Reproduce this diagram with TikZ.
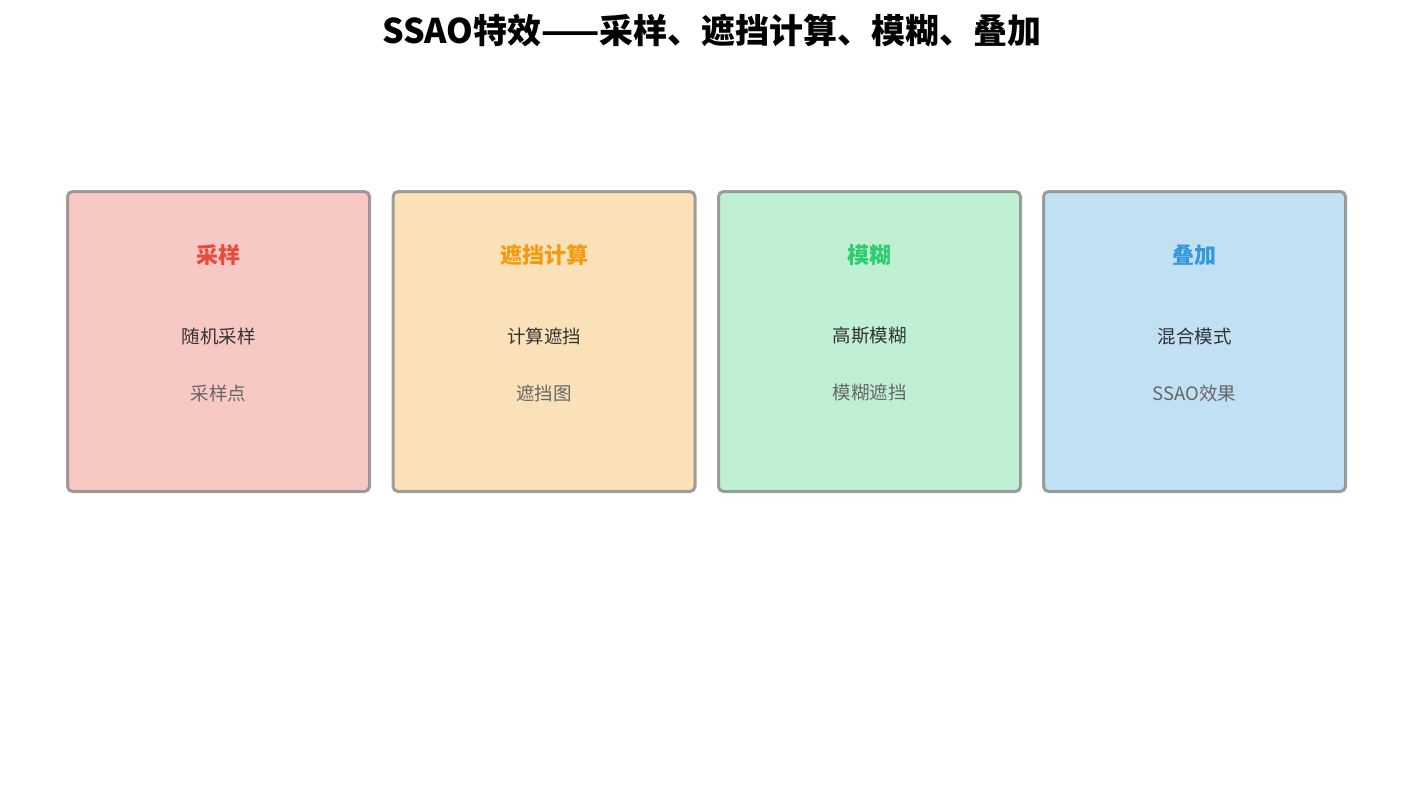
\documentclass[tikz,border=0pt]{standalone}
\usepackage{fontspec}
\setmainfont{Noto Sans CJK SC}
\usepackage{tikz}

\definecolor{redtone}{HTML}{E74C3C}
\definecolor{orangetone}{HTML}{F39C12}
\definecolor{greentone}{HTML}{2ECC71}
\definecolor{bluetone}{HTML}{3498DB}
\definecolor{darktext}{HTML}{333333}
\definecolor{softtext}{HTML}{666666}

\tikzset{
  stagebox/.style={draw=gray, draw opacity=0.75, line width=3pt, rounded corners=5pt,
    minimum width=302pt, minimum height=300pt, inner sep=0pt},
  stagehead/.style={font=\fontsize{22}{26}\selectfont\bfseries},
  stageop/.style={font=\fontsize{18.5}{22}\selectfont, text=darktext},
  stageout/.style={font=\fontsize{18.5}{22}\selectfont, text=softtext}
}

\begin{document}
\begin{tikzpicture}[x=1pt,y=-1pt]
\useasboundingbox (0,0) rectangle (1425,790);
\node [font=\fontsize{34}{40}\selectfont\bfseries] (title) at (712,31) {SSAO特效——采样、遮挡计算、模糊、叠加};

\node [stagebox, fill=redtone!30] (sample) at (218.5,341.5) {};
\node [stagebox, fill=orangetone!30] (occlude) at (544,341.5) {};
\node [stagebox, fill=greentone!30] (blur) at (869.5,341.5) {};
\node [stagebox, fill=bluetone!30] (blend) at (1194.5,341.5) {};

\node [stagehead, text=redtone] (samplehead) at (218.5,255) {采样};
\node [stageop] (sampleop) at (218.5,336) {随机采样};
\node [stageout] (sampleout) at (218.5,393) {采样点};

\node [stagehead, text=orangetone] (occludehead) at (544,255) {遮挡计算};
\node [stageop] (occludeop) at (544,336) {计算遮挡};
\node [stageout] (occludeout) at (544,393) {遮挡图};

\node [stagehead, text=greentone] (blurhead) at (869.5,255) {模糊};
\node [stageop] (blurop) at (869.5,336) {高斯模糊};
\node [stageout] (blurout) at (869.5,393) {模糊遮挡};

\node [stagehead, text=bluetone] (blendhead) at (1194.5,255) {叠加};
\node [stageop] (blendop) at (1194.5,336) {混合模式};
\node [stageout] (blendout) at (1194.5,393) {SSAO效果};
\end{tikzpicture}
\end{document}
